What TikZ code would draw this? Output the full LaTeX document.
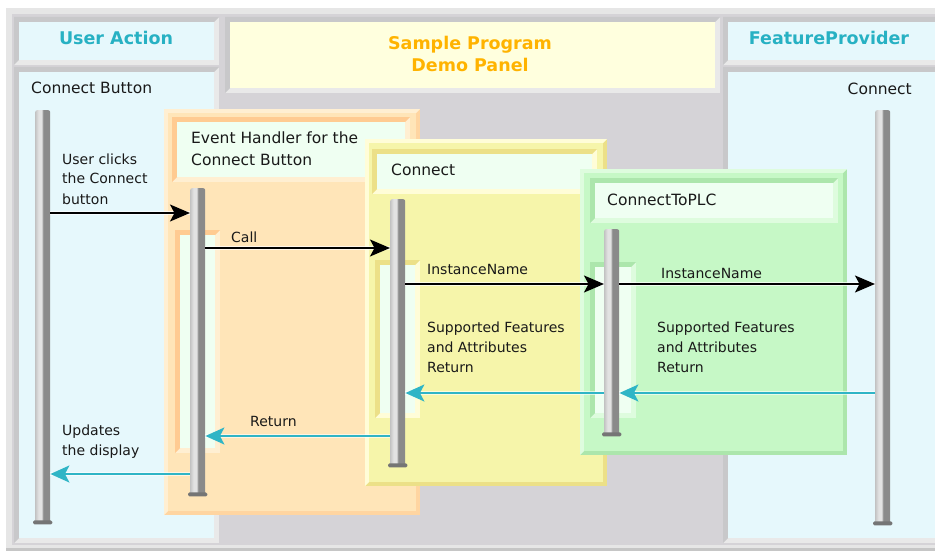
\documentclass[tikz,border=0pt]{standalone}
\usepackage{fontspec}
\setmainfont{DejaVu Sans}
\usetikzlibrary{arrows.meta}

% palette
\definecolor{framelite}{HTML}{E6E6E6}
\definecolor{framebase}{HTML}{D5D3D7}
\definecolor{bevdark}{HTML}{C8C8CA}
\definecolor{bevlite}{HTML}{E9E9E9}
\definecolor{skyfill}{HTML}{E6F8FC}
\definecolor{creamfill}{HTML}{FFFFDE}
\definecolor{mintfill}{HTML}{EFFFF2}
\definecolor{orfill}{HTML}{FFE5B8}
\definecolor{orlite}{HTML}{FFEFD2}
\definecolor{ordark}{HTML}{FFCB92}
\definecolor{yefill}{HTML}{F6F5AA}
\definecolor{yelite}{HTML}{FFFDD8}
\definecolor{yedark}{HTML}{ECE088}
\definecolor{grfill}{HTML}{C6F8C6}
\definecolor{grlite}{HTML}{DEFCDE}
\definecolor{grdark}{HTML}{ACE6AC}
\definecolor{titlecyan}{HTML}{27B1C3}
\definecolor{titleorange}{HTML}{FFB300}
\definecolor{retcyan}{HTML}{2FB5C6}
\definecolor{baredge}{HTML}{C4C4C4}
\definecolor{barlite}{HTML}{E2E2E2}
\definecolor{bardark}{HTML}{8A8A8A}

% two-tone shading of a lifeline bar (inner 25..75bp maps onto the bar)
\pgfdeclarehorizontalshading{lifebar}{100bp}{%
  color(0bp)=(baredge); color(25bp)=(baredge); color(36bp)=(barlite);
  color(46bp)=(barlite); color(52bp)=(bardark); color(75bp)=(bardark);
  color(100bp)=(bardark)}

% bevelled rectangle: x1 y1 x2 y2 (y grows downwards), border width,
% fill, top/left colour, bottom/right colour
\newcommand\bevelbox[8]{%
  \fill[#8] (#1,#2) rectangle (#3,#4);
  \fill[#7] (#1,#2) -- (#3,#2) -- ({#3-#5},{#2+#5}) -- ({#1+#5},{#2+#5})
        -- ({#1+#5},{#4-#5}) -- (#1,#4) -- cycle;
  \fill[#6] ({#1+#5},{#2+#5}) rectangle ({#3-#5},{#4-#5});}

\tikzset{
  lifeline/.style={shade, shading=lifebar, rounded corners=2pt,
    minimum width=15pt, inner sep=0pt, anchor=north west},
  call/.style={draw=black, line width=1.8pt,
    preaction={draw=white, opacity=0.7, line width=3.6pt, arrows=-},
    -{Stealth[length=20pt,width=17pt,inset=4.5pt]}},
  ret/.style={draw=retcyan, line width=2pt,
    preaction={draw=white, opacity=0.6, line width=4pt, arrows=-},
    -{Stealth[length=19pt,width=17pt,inset=4.5pt]}},
  lbl/.style={anchor=base west, inner sep=0pt, text=black!90,
    font=\fontsize{14}{20}\selectfont},
  hdr/.style={anchor=base west, inner sep=0pt, text=black!90,
    font=\fontsize{15.5}{22}\selectfont},
  ttl/.style={anchor=base, inner sep=0pt,
    font=\bfseries\fontsize{17.5}{22}\selectfont},
}

\begin{document}
\begin{tikzpicture}[x=1pt,y=-1pt]
\useasboundingbox (0,0) rectangle (935,551);

% outer frame
\fill[white] (0,0) rectangle (935,551);
\fill[framelite] (6,8) rectangle (935,548);
\fill[framebase] (12,14) rectangle (935,545);
\fill[gray!45] (6,548) rectangle (935,551);

% side columns and the title panel
\bevelbox{14}{17}{219}{65}{5}{skyfill}{bevdark}{bevlite}
\bevelbox{14}{67}{219}{543}{5}{skyfill}{bevdark}{bevlite}
\bevelbox{225}{17}{720}{93}{5}{creamfill}{bevdark}{bevlite}
\bevelbox{723}{17}{945}{65}{5}{skyfill}{bevdark}{bevlite}
\bevelbox{723}{67}{945}{543}{5}{skyfill}{bevdark}{bevlite}

% Event Handler panel
\bevelbox{164}{109}{420}{515}{4}{orfill}{orlite}{ordark!60!orfill}
\bevelbox{172}{117}{410}{182}{5}{mintfill}{ordark}{orlite}
\bevelbox{175}{230}{220}{453}{5}{mintfill}{ordark}{orlite}

% Connect panel
\bevelbox{365}{139}{607}{486}{4}{yefill}{yelite}{yedark}
\bevelbox{372}{149}{597}{194}{5}{mintfill}{yedark}{yelite}
\bevelbox{375}{260}{420}{418}{5}{mintfill}{yedark}{yelite}

% ConnectToPLC panel
\bevelbox{580}{169}{847}{455}{4}{grfill}{grlite}{grdark}
\bevelbox{590}{178}{838}{223}{5}{mintfill}{grdark}{grlite}
\bevelbox{590}{262}{636}{418}{5}{mintfill}{grdark}{grlite}

% titles
\node[ttl, text=titlecyan] (ua) at (116,45) {User Action};
\node[ttl, text=titleorange] (spd1) at (470,50) {Sample Program};
\node[ttl, text=titleorange] (spd2) at (470,72) {Demo Panel};
\node[ttl, text=titlecyan] (fp) at (829,45) {FeatureProvider};

% headers
\node[hdr] (cbtn) at (31,94) {Connect Button};
\node[hdr, anchor=base east] (fconn) at (912,95) {Connect};
\node[hdr] (evh) at (191,143)
  {\vtop{\hbox{Event Handler for the}\hbox{Connect Button}}};
\node[hdr] (conn) at (391,175) {Connect};
\node[hdr] (cplc) at (607,205) {ConnectToPLC};

% lifelines
\node[lifeline, minimum height=412pt] (L1) at (35,110) {};
\node[lifeline, minimum height=306pt] (L2) at (190,188) {};
\node[lifeline, minimum height=266pt] (L3) at (390,199) {};
\node[lifeline, minimum height=205pt] (L4) at (604,229) {};
\node[lifeline, minimum height=413pt] (L5) at (875,110) {};
\foreach \L in {L1,L2,L3,L4,L5}
  \fill[bardark!85!black, rounded corners=1.5pt]
    ([xshift=-2pt,yshift=2pt]\L.south west) rectangle
    ([xshift=2pt,yshift=-2pt]\L.south east);

% message levels
\coordinate (m1) at (0,213);
\coordinate (m2) at (0,248);
\coordinate (m3) at (0,284);
\coordinate (m4) at (0,393);
\coordinate (m5) at (0,436);
\coordinate (m6) at (0,474);

% calls
\draw[call] (L1.east |- m1) -- (L2.west |- m1);
\draw[call] (L2.east |- m2) -- (L3.west |- m2);
\draw[call] (L3.east |- m3) -- (L4.west |- m3);
\draw[call] (L4.east |- m3) -- (L5.west |- m3);

% returns
\draw[ret] (L5.west |- m4) -- (L4.east |- m4);
\draw[ret] (L4.west |- m4) -- (L3.east |- m4);
\draw[ret] (L3.west |- m5) -- (L2.east |- m5);
\draw[ret] (L2.west |- m6) -- (L1.east |- m6);

% message labels
\node[lbl] (t1) at (62,164)
  {\vtop{\hbox{User clicks}\hbox{the Connect}\hbox{button}}};
\node[lbl] (t2) at (231,242) {Call};
\node[lbl] (t3) at (427,274) {InstanceName};
\node[lbl] (t4) at (661,278) {InstanceName};
\node[lbl] (t5) at (427,332)
  {\vtop{\hbox{Supported Features}\hbox{and Attributes}\hbox{Return}}};
\node[lbl] (t6) at (657,332)
  {\vtop{\hbox{Supported Features}\hbox{and Attributes}\hbox{Return}}};
\node[lbl] (t7) at (250,426) {Return};
\node[lbl] (t8) at (62,435)
  {\vtop{\hbox{Updates}\hbox{the display}}};
\end{tikzpicture}
\end{document}
